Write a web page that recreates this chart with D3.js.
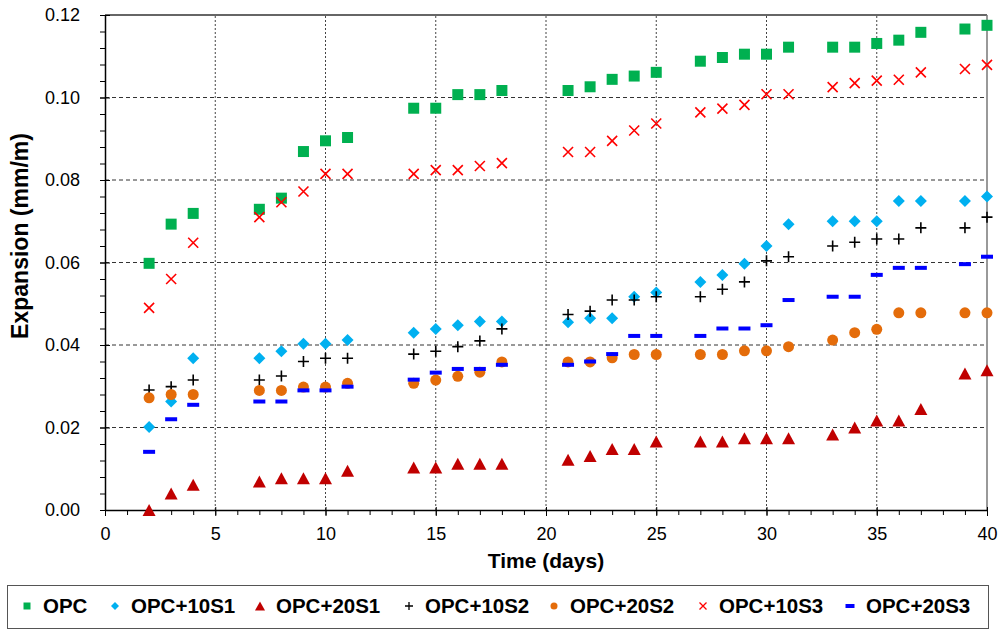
<!DOCTYPE html>
<html>
<head>
<meta charset="utf-8">
<script src="https://cdn.jsdelivr.net/npm/d3@7"></script>
<style>
  body { margin: 0; background: #fff; }
  svg { display: block; font-family: Arial, 'Liberation Sans', sans-serif; }
</style>
</head>
<body>
<div id="chart"></div>
<script>
// days on which every mix was measured
const days = [2, 3, 4, 7, 8, 9, 10, 11, 14, 15, 16, 17, 18, 21, 22, 23, 24, 25, 27, 28, 29, 30, 31, 33, 34, 35, 36, 37, 39, 40];

const opc = [0.0598, 0.0693, 0.0719, 0.0729, 0.0756, 0.0869, 0.0895, 0.0903, 0.0974, 0.0974, 0.1007, 0.1007, 0.1017, 0.1017, 0.1026,
  0.1044, 0.1052, 0.1061, 0.1088, 0.1097, 0.1105, 0.1105, 0.1122, 0.1122, 0.1122, 0.1131, 0.1139, 0.1158, 0.1166, 0.1175];
const opc10S1 = [0.0201, 0.0263, 0.0368, 0.0368, 0.0385, 0.0403, 0.0403, 0.0412, 0.0430, 0.0439, 0.0448, 0.0457, 0.0457, 0.0455, 0.0465,
  0.0465, 0.0517, 0.0527, 0.0553, 0.0570, 0.0597, 0.0640, 0.0693, 0.0700, 0.0700, 0.0700, 0.0749, 0.0749, 0.0749, 0.0760];
const opc20S1 = [0.0000, 0.0040, 0.0061, 0.0069, 0.0077, 0.0077, 0.0077, 0.0095, 0.0103, 0.0103, 0.0112, 0.0112, 0.0112, 0.0122, 0.0131,
  0.0148, 0.0148, 0.0166, 0.0166, 0.0166, 0.0174, 0.0174, 0.0174, 0.0183, 0.0200, 0.0217, 0.0217, 0.0245, 0.0331, 0.0339];
const opc10S2 = [0.0291, 0.0299, 0.0315, 0.0315, 0.0325, 0.0360, 0.0368, 0.0368, 0.0378, 0.0385, 0.0396, 0.0410, 0.0439, 0.0474, 0.0482,
  0.0509, 0.0509, 0.0517, 0.0517, 0.0535, 0.0553, 0.0604, 0.0614, 0.0640, 0.0649, 0.0657, 0.0657, 0.0684, 0.0684, 0.0710];
const opc20S2 = [0.0272, 0.0280, 0.0280, 0.0290, 0.0290, 0.0298, 0.0298, 0.0307, 0.0307, 0.0315, 0.0324, 0.0334, 0.0359, 0.0359, 0.0359,
  0.0369, 0.0377, 0.0377, 0.0377, 0.0377, 0.0386, 0.0386, 0.0396, 0.0412, 0.0430, 0.0438, 0.0478, 0.0478, 0.0478, 0.0478];
const opc10S3 = [0.0490, 0.0560, 0.0648, 0.0710, 0.0746, 0.0772, 0.0815, 0.0815, 0.0815, 0.0824, 0.0824, 0.0834, 0.0841, 0.0868, 0.0868,
  0.0895, 0.0920, 0.0937, 0.0964, 0.0973, 0.0982, 0.1008, 0.1008, 0.1025, 0.1035, 0.1041, 0.1043, 0.1061, 0.1069, 0.1079];
const opc20S3 = [0.0141, 0.0220, 0.0255, 0.0263, 0.0263, 0.0290, 0.0290, 0.0299, 0.0316, 0.0333, 0.0342, 0.0342, 0.0352, 0.0352, 0.0360,
  0.0378, 0.0422, 0.0422, 0.0422, 0.0440, 0.0440, 0.0448, 0.0509, 0.0517, 0.0517, 0.0570, 0.0587, 0.0587, 0.0596, 0.0614];

const seriesNames = ['OPC', 'OPC+10S1', 'OPC+20S1', 'OPC+10S2', 'OPC+20S2', 'OPC+10S3', 'OPC+20S3'];
const yTicks = [0, 0.02, 0.04, 0.06, 0.08, 0.10, 0.12];
const xTicks = [0, 5, 10, 15, 20, 25, 30, 35, 40];

// marker shapes, size = full width in px
const shapes = {
  square: { draw(p, w) { p.rect(-w / 2, -w / 2, w, w); } },
  diamond: { draw(p, w) { const r = w / 2; p.moveTo(0, -r); p.lineTo(r, 0); p.lineTo(0, r); p.lineTo(-r, 0); p.closePath(); } },
  triangle: { draw(p, w) { const r = w / 2, h = w * 0.46; p.moveTo(0, -h); p.lineTo(r, h); p.lineTo(-r, h); p.closePath(); } },
  plus: { draw(p, w) { const r = w / 2; p.moveTo(-r, 0); p.lineTo(r, 0); p.moveTo(0, -r); p.lineTo(0, r); } },
  circle: { draw(p, w) { p.moveTo(w / 2, 0); p.arc(0, 0, w / 2, 0, 2 * Math.PI); } },
  cross: { draw(p, w) { const r = w / 2; p.moveTo(-r, -r); p.lineTo(r, r); p.moveTo(r, -r); p.lineTo(-r, r); } },
  dash: { draw(p, w) { p.rect(-w / 2, -2, w, 4); } }
};

const series = [
  { name: seriesNames[0], values: opc, color: '#00b050', shape: 'square', size: 11, legendSize: 7 },
  { name: seriesNames[1], values: opc10S1, color: '#00b0f0', shape: 'diamond', size: 12, legendSize: 8 },
  { name: seriesNames[2], values: opc20S1, color: '#c00000', shape: 'triangle', size: 13, legendSize: 10 },
  { name: seriesNames[3], values: opc10S2, color: '#000000', shape: 'plus', size: 11, legendSize: 8, stroke: true },
  { name: seriesNames[4], values: opc20S2, color: '#e46c0a', shape: 'circle', size: 11, legendSize: 7 },
  { name: seriesNames[5], values: opc10S3, color: '#ff0000', shape: 'cross', size: 10, legendSize: 7, stroke: true },
  { name: seriesNames[6], values: opc20S3, color: '#0000ff', shape: 'dash', size: 12, legendSize: 9 }
];

const width = 1001, height = 630;
const margin = { top: 15, right: 14, bottom: 120, left: 105 };

const x = d3.scaleLinear().domain([0, 40]).range([margin.left, width - margin.right]);
const y = d3.scaleLinear().domain([0, 0.12]).range([height - margin.bottom, margin.top]);

const svg = d3.select('#chart').append('svg')
  .attr('width', width)
  .attr('height', height);

// grid
svg.append('g')
  .selectAll('line')
  .data(yTicks.filter(d => d > 0 && d < 0.12))
  .join('line')
    .attr('x1', x(0)).attr('x2', x(40))
    .attr('y1', d => y(d)).attr('y2', d => y(d))
    .attr('stroke', '#333')
    .attr('stroke-dasharray', '4,3');

svg.append('g')
  .selectAll('line')
  .data(xTicks.filter(d => d > 0 && d < 40))
  .join('line')
    .attr('x1', d => x(d)).attr('x2', d => x(d))
    .attr('y1', y(0)).attr('y2', y(0.12))
    .attr('stroke', '#444')
    .attr('stroke-dasharray', '2,2');

// frame top and right
svg.append('line')
  .attr('x1', x(0)).attr('x2', x(40)).attr('y1', y(0.12)).attr('y2', y(0.12))
  .attr('stroke', '#666').attr('stroke-width', 2);
svg.append('line')
  .attr('x1', x(40)).attr('x2', x(40)).attr('y1', y(0.12)).attr('y2', y(0))
  .attr('stroke', '#777').attr('stroke-width', 1.5);

// y axis
const yMinor = d3.range(0, 0.1201, 0.004);
svg.append('g')
  .attr('transform', `translate(${x(0)},0)`)
  .call(d3.axisLeft(y).tickValues(yMinor).tickSize(5).tickFormat(''))
  .call(g => g.select('.domain').remove());
svg.append('g')
  .attr('transform', `translate(${x(0)},0)`)
  .call(d3.axisRight(y).tickValues(yTicks).tickSize(5).tickFormat(''))
  .call(g => g.select('.domain').remove());
svg.append('g')
  .attr('transform', `translate(${x(0)},0)`)
  .call(d3.axisLeft(y).tickValues(yTicks).tickSize(5).tickSizeOuter(0).tickPadding(20).tickFormat(d3.format('.2f')))
  .call(g => g.select('.domain').attr('stroke-width', 1.5))
  .call(g => g.selectAll('text').attr('font-size', 18).attr('fill', '#000').attr('font-family', null));

// x axis
svg.append('g')
  .attr('transform', `translate(0,${y(0)})`)
  .call(d3.axisBottom(x).tickValues(d3.range(0, 41, 1)).tickSize(5).tickFormat(''))
  .call(g => g.select('.domain').remove());
svg.append('g')
  .attr('transform', `translate(0,${y(0)})`)
  .call(d3.axisTop(x).tickValues(xTicks).tickSize(3).tickFormat(''))
  .call(g => g.select('.domain').remove());
svg.append('g')
  .attr('transform', `translate(0,${y(0)})`)
  .call(d3.axisBottom(x).tickValues(xTicks).tickSize(6).tickSizeOuter(0).tickFormat(d3.format('d')))
  .call(g => g.select('.domain').attr('stroke-width', 1.5))
  .call(g => g.selectAll('text').attr('font-size', 18).attr('fill', '#000').attr('font-family', null)
    .attr('dy', null).attr('y', 30));

// axis titles
svg.append('text')
  .attr('transform', 'translate(28,236) rotate(-90)')
  .attr('text-anchor', 'middle')
  .attr('font-size', 23)
  .attr('font-weight', 'bold')
  .text('Expansion (mm/m)');

svg.append('text')
  .attr('x', 546)
  .attr('y', 568)
  .attr('text-anchor', 'middle')
  .attr('font-size', 21)
  .attr('font-weight', 'bold')
  .text('Time (days)');

// markers
series.forEach(s => {
  const sym = d3.symbol().type(shapes[s.shape]).size(s.size);
  svg.append('g')
    .selectAll('path')
    .data(days.map((d, i) => ({ day: d, value: s.values[i] })))
    .join('path')
      .attr('transform', d => `translate(${x(d.day)},${y(d.value)})`)
      .attr('d', sym)
      .attr('fill', s.stroke ? 'none' : s.color)
      .attr('stroke', s.stroke ? s.color : 'none')
      .attr('stroke-width', s.stroke ? 1.6 : 0);
});

// legend
svg.append('rect')
  .attr('x', 7.5).attr('y', 585.5)
  .attr('width', 981).attr('height', 43)
  .attr('fill', '#fff')
  .attr('stroke', '#555');

const legendX = [27, 115, 260, 409, 554, 703, 850];
const legend = svg.append('g')
  .selectAll('g')
  .data(series)
  .join('g')
    .attr('transform', (d, i) => `translate(${legendX[i]},606)`);

legend.append('path')
  .attr('d', d => d3.symbol().type(shapes[d.shape]).size(d.legendSize)())
  .attr('fill', d => d.stroke ? 'none' : d.color)
  .attr('stroke', d => d.stroke ? d.color : 'none')
  .attr('stroke-width', d => d.stroke ? 1.3 : 0);

legend.append('text')
  .attr('x', 16)
  .attr('y', 7)
  .attr('font-size', 20.5)
  .attr('font-weight', 'bold')
  .text(d => d.name);
</script>
</body>
</html>
